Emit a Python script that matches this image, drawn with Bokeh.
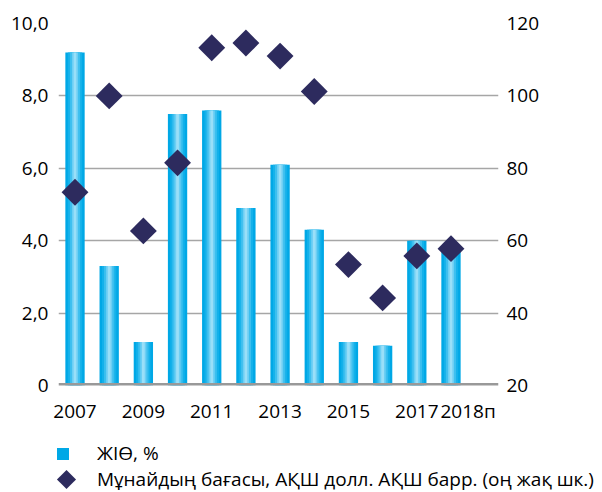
import math
from bokeh.plotting import figure
from bokeh.layouts import column, row
from bokeh.models import (Range1d, LinearAxis, FixedTicker, Span, Legend, LegendItem,
                          ColumnDataSource)
from bokeh.embed import file_html
from bokeh.resources import INLINE

# ---- data ----
years = ["2007", "2008", "2009", "2010", "2011", "2012",
         "2013", "2014", "2015", "2016", "2017", "2018п"]
gdp = [9.2, 3.3, 1.2, 7.5, 7.6, 4.9, 6.1, 4.3, 1.2, 1.1, 4.0, 3.8]
oil = [73.4, 100.0, 62.7, 81.5, 113.3, 114.6, 111.0, 101.2, 53.4, 44.2, 55.8, 57.8]
left_ticks = [0, 2, 4, 6, 8, 10]
left_labels = ["0", "2,0", "4,0", "6,0", "8,0", "10,0"]
right_ticks = [20, 40, 60, 80, 100, 120]
right_labels = ["20", "40", "60", "80", "100", "120"]
shown_years = ["2007", "2009", "2011", "2013", "2015", "2017", "2018п"]
gdp_label = "ЖІӨ, %"
oil_label = "Мұнайдың бағасы, АҚШ долл. АҚШ барр. (оң жақ шк.)"

FONT = "Open Sans"
BAR_COLOR = "#00A8E6"
DIA_COLOR = "#2D2B5E"
x = list(range(len(years)))
src = ColumnDataSource(dict(x=x, gdp=gdp, oil=oil))

p = figure(width=602, height=430, output_backend="svg", toolbar_location=None,
           x_range=Range1d(-0.483, 12.39), y_range=Range1d(0, 10),
           min_border_left=58, min_border_right=104, min_border_top=23,
           min_border_bottom=45)
p.outline_line_color = None
p.extra_y_ranges = {"right": Range1d(20, 120)}

# axes
p.yaxis.ticker = FixedTicker(ticks=left_ticks)
p.yaxis.major_label_overrides = dict(zip(left_ticks, left_labels))
ry = LinearAxis(y_range_name="right", ticker=FixedTicker(ticks=right_ticks))
ry.major_label_overrides = dict(zip(right_ticks, right_labels))
p.add_layout(ry, "right")

# x ticks (last label nudged right as in the original)
xpos = {y: i for i, y in enumerate(years)}
xt = [xpos[y] + (0.5 if y == years[-1] else 0) for y in shown_years]
p.xaxis.ticker = FixedTicker(ticks=xt)
p.xaxis.major_label_overrides = dict(zip(xt, shown_years))

for ax in [p.xaxis[0], p.yaxis[0], ry]:
    ax.axis_line_color = None
    ax.major_tick_line_color = None
    ax.minor_tick_line_color = None
    ax.major_tick_out = 0
    ax.major_tick_in = 0
    ax.major_label_text_font = FONT
    ax.major_label_text_font_size = "19px"
    ax.major_label_text_color = "#000000"
p.xaxis.major_label_standoff = 12
p.yaxis.major_label_standoff = 10
ry.major_label_standoff = 8

p.xgrid.grid_line_color = None
p.ygrid.grid_line_color = "#A6A6A6"
p.ygrid.grid_line_width = 1.3

# bars with a cylinder-like highlight
layers = [(0.565, BAR_COLOR), (0.42, "#14B1EA"), (0.30, "#3CBFEF"),
          (0.18, "#6DCFF4"), (0.08, "#9ADFF8")]
for w, c in layers:
    p.vbar(x="x", top="gdp", width=w, bottom=0, source=src,
           fill_color=c, line_color=None)

p.add_layout(Span(location=0, dimension="width", line_color="#999999", line_width=5))

p.scatter(x="x", y="oil", source=src, y_range_name="right", marker="square",
          size=19, angle=math.pi / 4, fill_color=DIA_COLOR, line_color=None)

# ---- legend panel (pixel-like coordinates) ----
LW, LH = 602, 62
lf = figure(width=LW, height=LH, output_backend="svg", toolbar_location=None,
            x_range=Range1d(0, LW), y_range=Range1d(0, LH),
            min_border_left=0, min_border_right=0, min_border_top=0, min_border_bottom=0)
lf.axis.visible = False
lf.grid.visible = False
lf.outline_line_color = None

# legend key for bars
dummy = ColumnDataSource(dict(x=[-100.0], y=[-100.0]))
lb = lf.vbar(x="x", top="y", width=1, source=dummy, fill_color=BAR_COLOR, line_color=None)
# legend key for the diamond: an invisible legend glyph + a rotated-square key mark
ld = lf.scatter(x="x", y="y", source=dummy, marker="square",
                fill_alpha=0, line_alpha=0)
key_src = ColumnDataSource(dict(x=[66], y=[13]))
lf.scatter(x="x", y="y", source=key_src, marker="square", size=13.5,
           angle=math.pi / 4, fill_color=DIA_COLOR, line_color=None)

common = dict(border_line_color=None, background_fill_alpha=0, padding=0, margin=0,
              spacing=0, label_text_font=FONT, label_text_font_size="19px",
              label_text_color="#000000")
leg1 = Legend(items=[LegendItem(label=gdp_label, renderers=[lb])],
              location=(55, 26), glyph_width=15, glyph_height=15, label_height=15,
              label_standoff=27, **common)
leg2 = Legend(items=[LegendItem(label=oil_label, renderers=[ld])],
              location=(50, -3), glyph_width=32, glyph_height=32, label_height=32,
              label_standoff=15, **common)
lf.add_layout(leg1, "center")
lf.add_layout(leg2, "center")

open("out.html", "w").write(file_html(column(p, row(lf)), INLINE))
